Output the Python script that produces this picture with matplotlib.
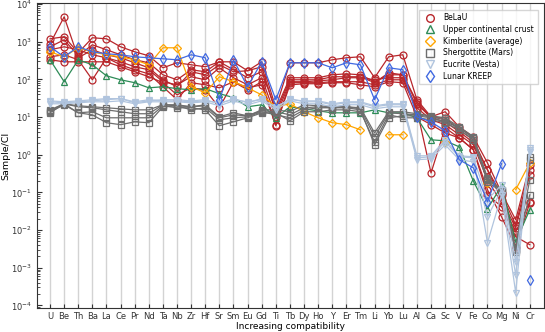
import numpy as np
import matplotlib
matplotlib.use("Agg")
import matplotlib.pyplot as plt
from matplotlib.lines import Line2D

nan = np.nan

# Elements, ordered by increasing compatibility
elements = ["U", "Be", "Th", "Ba", "La", "Ce", "Pr", "Nd", "Ta", "Nb", "Zr", "Hf",
            "Sr", "Sm", "Eu", "Gd", "Ti", "Tb", "Dy", "Ho", "Y", "Er", "Tm", "Li",
            "Yb", "Lu", "Al", "Ca", "Sc", "V", "Fe", "Co", "Mg", "Ni", "Cr"]

# CI-normalised concentrations
belau = [
    [1200, 1360, 510, 1280, 1200, 736, 542, 425, 204, 277, 245, 217, 294, 294, 170, 294, 17.7,
     277, 277, 277, 333, 376, 400, 111, 400, 452, 29, 10.2, 13.9, 5.5, 3.0, 0.61, 0.098, 0.0188, 0.54],
    [885, 4600, 376, 613, 452, 376, 277, 204, 98, 64, 160, 133, 245, 160, 170, 217, 13.0,
     98, 98, 98, 118, 118, 118, 82, 150, 133, 25.5, 9.6, 7.5, 4.1, 2.1, 0.40, 0.064, 0.0115, 0.29],
    [613, 736, 613, 452, 376, 294, 217, 181, 87, 72, 118, 98, 204, 111, 72, 111, 10.2,
     87, 87, 92, 98, 111, 111, 98, 111, 111, 17.7, 8.5, 6.3, 3.4, 1.84, 0.217, 0.053, 0.0090, 0.057],
    [400, 452, 333, 98, 376, 245, 181, 141, 64, 29, 82, 72, 60, 87, 53, 87, 6.3,
     82, 82, 82, 87, 87, 87, 72, 98, 98, 15.6, 0.33, 5.2, 2.8, 1.36, 0.087, 0.042, 0.0067, 0.0041],
    [333, 294, 294, 294, 294, 217, 160, 118, 82, 39, 60, 53, 17.7, 87, 60, 72, 5.9,
     72, 77, 77, 82, 82, 72, 64, 87, 82, 10.2, 6.3, 3.8, 2.8, 1.36, 0.118, 0.0226, 0.0036, 0.053],
    [736, 1130, 425, 832, 613, 452, 333, 277, 133, 98, 181, 160, 294, 181, 111, 160, 15.6,
     111, 111, 111, 133, 141, 133, 87, 133, 133, 22.6, 9.6, 9.6, 4.6, 2.5, 0.40, 0.087, 0.0139, 0.40],
]

ucc = [333, 87, 333, 245, 125, 98, 82, 60, 64, 57, 53, 57, 42, 33, 18.8, 21.3, 9.6,
       18.8, 16.6, 14.7, 13.0, 13.0, 13.0, 15.6, 13.0, 13.0, 9.6, 2.5, 2.35, 1.63, 0.20,
       0.037, 0.15, 0.0049, 0.035]

kimberlite = [542, 400, 693, 542, 452, 400, 333, 245, 693, 693, 64, 44, 118, 87, 60, 39, 18.8,
              22.6, 13.9, 9.6, 7.1, 6.3, 4.6, nan, 3.4, 3.4, nan, nan, 2.2, nan, nan,
              0.18, nan, 0.118, 0.61]

shergottite = [
    [15.6, 22.6, 20.0, 18.8, 17.7, 16.6, 15.6, 15.6, 21.3, 21.3, 18.8, 21.3, 10.2, 13.0, 10.8, 15.6,
     15.6, 13.9, 21.3, 20.0, 18.8, 18.8, 17.7, 3.8, 13.9, 13.9, 12.3, 10.8, 9.6, 5.5, 3.0,
     0.245, 0.118, 0.0030, 0.885],
    [13.0, 22.6, 13.0, 13.9, 9.6, 9.6, 9.6, 9.6, 20.0, 17.7, 17.7, 15.6, 5.9, 7.5, 9.6, 13.0,
     13.0, 8.0, 13.9, 13.9, 15.6, 15.6, 13.9, 2.2, 11.5, 9.6, 9.6, 8.5, 7.1, 4.6, 2.5,
     0.19, 0.104, 0.0030, 0.087],
    [13.9, 21.3, 13.0, 11.5, 7.1, 6.3, 7.5, 7.1, 18.8, 20.0, 15.6, 17.7, 8.5, 9.6, 10.2, 13.9,
     11.5, 9.6, 15.6, 17.7, 17.7, 17.7, 15.6, 1.84, 9.6, 10.8, 10.8, 9.6, 7.5, 5.2, 2.8,
     0.217, 0.111, 0.0027, 0.217],
    [14.7, 22.6, 18.8, 17.7, 15.6, 13.9, 12.3, 12.3, 21.3, 20.0, 18.8, 20.0, 9.6, 11.5, 10.8, 14.7,
     13.9, 11.5, 17.7, 18.8, 17.7, 18.8, 16.6, 3.0, 13.0, 12.3, 11.5, 10.2, 8.5, 5.2, 2.8,
     0.23, 0.118, 0.0032, 0.74],
]

eucrite = [
    [25.5, 24.0, 25.5, 27, 29, 31, 24.0, 27, 29, 29, 27, 29, 22.6, 31, 24.0, 31, 17.7,
     31, 25.5, 25.5, 21.3, 24.0, 24.0, 18.8, 21.3, 21.3, 0.83, 0.885, 2.2, 0.885, 0.83,
     0.064, 0.16, 0.00144, 1.36],
    [22.6, 22.6, 24.0, 25.5, 25.5, 27, 22.6, 25.5, 25.5, 25.5, 24.0, 25.5, 20.0, 27, 21.3, 27, 15.6,
     27, 22.6, 22.6, 18.8, 21.3, 21.3, 16.6, 18.8, 18.8, 0.74, 0.78, 1.84, 0.74, 0.65,
     0.0226, 0.118, 0.00065, 1.20],
    [27, 25.5, 27, 29, 31, 31, 25.5, 29, 27, 27, 25.5, 27, 24.0, 29, 25.5, 29, 18.8,
     29, 27, 27, 22.6, 25.5, 25.5, 20.0, 22.6, 22.6, 0.94, 0.94, 2.5, 0.94, 0.885,
     0.0046, 0.087, 0.00022, 1.5],
]

kreep = [736, 400, 736, 542, 480, 452, 400, 376, 354, 333, 452, 376, 29, 333, 64, 294, 29,
         277, 277, 277, 204, 277, 245, 29, 204, 181, 10.2, 7.5, 4.3, 0.74, 0.45,
         0.057, 0.58, nan, 0.00048]

groups = [
    ("BeLaU", belau, "#b8262b", "o", 5),
    ("Upper continental crust", [ucc], "#2e8b57", "^", 5),
    ("Kimberlite (average)", [kimberlite], "#ffa500", "D", 4.5),
    ("Shergottite (Mars)", shergottite, "#6e6e6e", "s", 5),
    ("Eucrite (Vesta)", eucrite, "#b0c4de", "v", 5),
    ("Lunar KREEP", [kreep], "#4169e1", "d", 5.5),
]

fig = plt.figure(figsize=(5.45, 3.32), dpi=100)
ax = fig.add_axes([0.068, 0.072, 0.930, 0.919])

x = np.arange(len(elements))
for xi in x:
    ax.axvline(xi, color="#d3d3d3", lw=1.0, zorder=0)

handles = []
for name, series, color, marker, ms in groups:
    for vals in series:
        ax.plot(x, vals, color=color, lw=0.9, marker=marker, ms=ms,
                mfc="none", mec=color, mew=0.9, zorder=2)
    handles.append(Line2D([], [], color=color, ls="none", marker=marker, ms=ms + 0.5,
                          mfc="none", mec=color, mew=1.0, label=name))

ax.set_yscale("log")
ax.set_ylim(10 ** -4.07, 10 ** 4.03)
ax.set_xlim(-0.92, 35)
ax.set_xticks(x)
ax.set_xticklabels(elements)
ax.yaxis.set_minor_formatter(matplotlib.ticker.NullFormatter())
ax.tick_params(axis="both", which="both", direction="in", labelsize=6, colors="#333333")
ax.tick_params(axis="x", length=3, pad=2.5)
ax.set_xlabel("Increasing compatibility", fontsize=6.5, labelpad=1)
ax.set_ylabel("Sample/CI", fontsize=6.8)
ax.yaxis.set_label_coords(-0.052, 0.5)
for sp in ax.spines.values():
    sp.set_color("#333333")

ax.legend(handles=handles, loc="upper right", fontsize=5.5, frameon=True,
          edgecolor="#cccccc", fancybox=False, borderpad=0.45, handletextpad=0.8,
          labelspacing=0.35, bbox_to_anchor=(0.995, 0.99))

fig.savefig("out.png", dpi=100)
